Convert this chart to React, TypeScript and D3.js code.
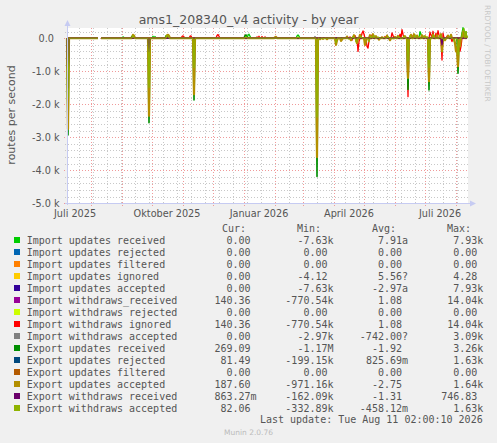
import React from 'react';
import * as d3 from 'd3';

// ---------- data ----------
const startDate = new Date(Date.UTC(2025, 6, 8));
const endDate = new Date(Date.UTC(2026, 7, 12));
const dayCount = 401;
const gapDays = [32, 33];

const yTickValues = [0, -1000, -2000, -3000, -4000, -5000];
const yTickLabels = ['0.0', '-1.0 k', '-2.0 k', '-3.0 k', '-4.0 k', '-5.0 k'];

const xLabelMonths = ['2025-07-01', '2025-10-01', '2026-01-01', '2026-04-01', '2026-07-01'];
const xLabelTexts = ['Juli 2025', 'Oktober 2025', 'Januar 2026', 'April 2026', 'Juli 2026'];

const seriesNames = [
  'Import updates received',
  'Import updates rejected',
  'Import updates filtered',
  'Import updates ignored',
  'Import updates accepted',
  'Import withdraws_received',
  'Import withdraws rejected',
  'Import withdraws ignored',
  'Import withdraws accepted',
  'Export updates received',
  'Export updates rejected',
  'Export updates filtered',
  'Export updates accepted',
  'Export withdraws received',
  'Export withdraws accepted',
];
const seriesColors = [
  '#00CC00', '#0066B3', '#FF8000', '#FFCC00', '#330099', '#990099', '#CCFF00', '#FF0000',
  '#808080', '#008F00', '#00487D', '#B35A00', '#B38F00', '#6B006B', '#8FB300',
];
const curValues = ['0.00', '0.00', '0.00', '0.00', '0.00', '140.36', '0.00', '140.36', '0.00', '269.09', '81.49', '0.00', '187.60', '863.27m', '82.06'];
const minValues = ['-7.63k', '0.00', '0.00', '-4.12', '-7.63k', '-770.54k', '0.00', '-770.54k', '-2.97k', '-1.17M', '-199.15k', '0.00', '-971.16k', '-162.09k', '-332.89k'];
const avgValues = ['7.91a', '0.00', '0.00', '5.56?', '-2.97a', '1.08', '0.00', '1.08', '-742.00?', '-1.92', '825.69m', '0.00', '-2.75', '-1.31', '-458.12m'];
const maxValues = ['7.93k', '0.00', '0.00', '4.28', '7.93k', '14.04k', '0.00', '14.04k', '3.09k', '3.26k', '1.63k', '0.00', '1.64k', '746.83', '1.63k'];

// sparse readings [day index from start, routes/s]; unlisted days read 0
const importUpdatesReceived = [
  [56, 40], [57, 20], [86, 60], [88, 50], [99, 80], [101, 110], [181, 90], [182, 120], [183, 60],
  [230, 70], [231, 100], [232, 60], [353, 200], [354, 120], [395, 150], [396, 320], [397, 250], [399, 200],
];
const importUpdatesRejected: number[][] = [];
const importUpdatesFiltered: number[][] = [];
const importUpdatesIgnored: number[][] = [];
const importUpdatesAccepted = [[1, -1300]];
const importWithdrawsReceived = [[375, -300]];
const importWithdrawsRejected: number[][] = [];
const importWithdrawsIgnored = [
  [115, 50], [116, 70], [117, 40], [123, 60], [124, 70], [150, 80], [151, 110], [152, 60], [190, 40],
  [192, 60], [195, 50], [198, 40], [283, 40], [285, -60], [288, 80], [291, -400], [292, -100], [295, 150],
  [296, 220], [297, 120], [300, -250], [301, -300], [302, -80], [305, 100], [308, 60], [318, 50], [325, 160],
  [326, 80], [333, 120], [335, 260], [336, 120], [341, -1770], [345, 80], [356, 60], [363, 180], [364, 100],
  [366, 210], [369, 150], [371, 230], [372, 100], [375, -660], [376, 150], [380, 60], [385, -100], [393, -400],
  [394, -250], [398, 150],
];
const importWithdrawsAccepted = [[248, 50]];
const exportUpdatesReceived = [
  [1, -2930], [65, 60], [82, -2560], [100, 80], [127, -1870], [178, 80], [179, 100], [250, -4190],
  [341, -1550], [362, -1570], [391, -1060],
];
const exportUpdatesRejected: number[][] = [];
const exportUpdatesFiltered: number[][] = [];
const exportUpdatesAccepted = [
  [1, -2750], [66, 100], [67, 80], [82, -2350], [100, 90], [101, 100], [102, 70], [127, -1700], [208, 30],
  [209, 40], [250, -3600], [253, -30], [256, -20], [260, -30], [269, -200], [270, -60], [274, -80], [275, -40],
  [280, 50], [284, -60], [287, 90], [290, -150], [293, 100], [298, -200], [299, -100], [303, 90], [306, 120],
  [309, 60], [312, -40], [315, 30], [320, 80], [323, -60], [328, 40], [331, 70], [338, 60], [341, -1200],
  [344, 100], [347, 120], [350, 80], [355, 90], [358, 60], [362, -1300], [366, 110], [370, 90], [374, 120],
  [375, -400], [378, -60], [381, 80], [384, 100], [388, -150], [389, -400], [390, -300], [391, -850],
  [393, -250], [396, 200], [398, 120], [400, 80],
];
const exportWithdrawsReceived = [[1, -1500], [82, -400], [375, -200]];
const exportWithdrawsAccepted = [
  [1, -1800], [66, 90], [82, -1500], [100, 70], [101, 90], [127, -900], [179, 60], [231, 50], [250, -2400],
  [253, -40], [257, -20], [269, -150], [282, -40], [286, 70], [289, -120], [294, 80], [302, -120], [304, 70],
  [307, 90], [311, 50], [317, 40], [321, 60], [327, -30], [332, 50], [337, 80], [341, -700], [343, 90],
  [348, 100], [352, 70], [357, 80], [360, 60], [362, -900], [367, 90], [373, 100], [377, -80], [383, 70],
  [387, -100], [391, -500], [392, -200], [396, 250], [397, 300], [399, 220],
];

const seriesReadings = [
  importUpdatesReceived, importUpdatesRejected, importUpdatesFiltered, importUpdatesIgnored,
  importUpdatesAccepted, importWithdrawsReceived, importWithdrawsRejected, importWithdrawsIgnored,
  importWithdrawsAccepted, exportUpdatesReceived, exportUpdatesRejected, exportUpdatesFiltered,
  exportUpdatesAccepted, exportWithdrawsReceived, exportWithdrawsAccepted,
];
const seriesStroke = [1.3, 1.3, 1.3, 1.3, 1.3, 1.3, 1.3, 1.3, 1.3, 1.6, 1.3, 1.3, 2.2, 1.3, 1];

// ---------- layout ----------
const W = 497;
const H = 443;
const plotLeft = 67;
const plotRight = 468;
const plotTop = 28;
const plotBottom = 203;

const FONT = 'DejaVu Sans, sans-serif';
const MONO = 'DejaVu Sans Mono, monospace';
const TEXT = '#555555';

function splitValue(s: string) {
  const last = s[s.length - 1];
  if (/[a-zA-Z?]/.test(last)) return [s.slice(0, -1), last];
  return [s, ''];
}

export default function App() {
  const x = d3.scaleUtc().domain([startDate, endDate]).range([67, 467]);
  const y = d3.scaleLinear().domain([-5000, 300]).range([203.3, 28.3]);

  const gapSet = new Set(gapDays);
  const buildSeries = (readings: number[][]) => {
    const vals = new Array(dayCount).fill(0);
    readings.forEach(([d, v]) => { vals[d] = v; });
    return vals.map((v, i) => ({ date: d3.utcDay.offset(startDate, i), v: gapSet.has(i) ? NaN : v }));
  };
  const line = d3.line<{ date: Date; v: number }>()
    .defined((p) => !isNaN(p.v))
    .x((p) => x(p.date))
    .y((p) => y(p.v));

  const monthLines = d3.utcMonth.range(d3.utcMonth.ceil(startDate), endDate);
  const minorLines = d3.utcDay.range(new Date(Date.UTC(2025, 6, 20)), endDate, 14);
  const minorY = d3.range(-4800, 300, 200).filter((v) => v % 1000 !== 0);

  const rowY = (i: number) => 240 + i * 12;
  const colEnds = [250.5, 327.5, 402, 477.3];
  const cols = [curValues, minValues, avgValues, maxValues];
  const headers = ['Cur:', 'Min:', 'Avg:', 'Max:'];
  const headerX = [222, 297, 372, 447];

  return (
    <svg width={W} height={H} style={{ position: 'absolute', left: 0, top: 0 }} xmlns="http://www.w3.org/2000/svg">
      <rect x={0} y={0} width={W} height={H} fill="#F0F0F0" />
      <rect x={plotLeft} y={plotTop} width={plotRight - plotLeft} height={plotBottom - plotTop} fill="#FFFFFF" />

      {/* minor grid */}
      {minorLines.map((d, i) => (
        <line key={'mx' + i} x1={Math.round(x(d)) + 0.5} x2={Math.round(x(d)) + 0.5} y1={plotTop} y2={plotBottom + 2}
          stroke="#C8C8C8" strokeWidth={1} strokeDasharray="1,2" />
      ))}
      {minorY.map((v, i) => (
        <line key={'my' + i} x1={plotLeft - 2} x2={plotRight} y1={Math.round(y(v)) + 0.5} y2={Math.round(y(v)) + 0.5}
          stroke="#C8C8C8" strokeWidth={1} strokeDasharray="1,2" />
      ))}
      {/* major grid */}
      {monthLines.map((d, i) => (
        <line key={'Mx' + i} x1={Math.round(x(d)) + 0.5} x2={Math.round(x(d)) + 0.5} y1={plotTop} y2={plotBottom + 3}
          stroke="#F09A9A" strokeWidth={1} strokeDasharray="1,2" />
      ))}
      {yTickValues.map((v, i) => (
        <line key={'My' + i} x1={plotLeft - 3} x2={plotRight} y1={Math.round(y(v)) + 0.5} y2={Math.round(y(v)) + 0.5}
          stroke="#F09A9A" strokeWidth={1} strokeDasharray="1,2" />
      ))}

      {/* series */}
      {seriesReadings.map((r, i) => (
        <path key={'s' + i} d={line(buildSeries(r)) || ''} fill="none" stroke={seriesColors[i]} strokeWidth={seriesStroke[i]}
          strokeLinejoin="round" />
      ))}

      {/* axes */}
      <line x1={plotLeft + 0.5} x2={plotLeft + 0.5} y1={plotBottom + 2} y2={plotTop - 4} stroke="#C6CBF2" strokeWidth={1} />
      <path d={`M${plotLeft - 2.5},${plotTop - 2} L${plotLeft + 0.5},${plotTop - 8} L${plotLeft + 3.5},${plotTop - 2} Z`} fill="#C6CBF2" />
      <line x1={plotLeft - 2} x2={plotRight + 3} y1={plotBottom + 0.5} y2={plotBottom + 0.5} stroke="#C6CBF2" strokeWidth={1} />
      <path d={`M${plotRight + 2},${plotBottom - 2.5} L${plotRight + 8},${plotBottom + 0.5} L${plotRight + 2},${plotBottom + 3.5} Z`} fill="#C6CBF2" />

      {/* y tick labels */}
      {yTickValues.map((v, i) => (
        <text key={'yl' + i} x={v === 0 ? 54 : 59.5} y={y(v) + 3.5} fontFamily={FONT} fontSize={9.7} fill={TEXT} textAnchor="end">
          {yTickLabels[i]}
        </text>
      ))}
      {/* x labels */}
      {xLabelMonths.map((m, i) => (
        <text key={'xl' + i} x={x(d3.utcDay.offset(new Date(m + 'T00:00:00Z'), 15))} y={216.5} fontFamily={FONT} fontSize={9.7}
          fill={TEXT} textAnchor="middle">
          {xLabelTexts[i]}
        </text>
      ))}

      {/* title & labels */}
      <text x={248.5} y={23.5} fontFamily={FONT} fontSize={12.5} fill={TEXT} textAnchor="middle">
        ams1_208340_v4 activity - by year
      </text>
      <text transform="translate(15,115) rotate(-90)" fontFamily={FONT} fontSize={11} fill={TEXT} textAnchor="middle">
        routes per second
      </text>
      <text transform="translate(484.5,5) rotate(90)" fontFamily={FONT} fontSize={7.5} fill="#C8C8C8">
        RRDTOOL / TOBI OETIKER
      </text>

      {/* legend */}
      {headers.map((h, i) => (
        <text key={'h' + i} x={headerX[i]} y={231.8} fontFamily={MONO} fontSize={10} fill={TEXT}>{h}</text>
      ))}
      {seriesNames.map((n, i) => (
        <g key={'lg' + i}>
          <rect x={14} y={rowY(i) - 3} width={6} height={6} fill={seriesColors[i]} />
          <text x={26.7} y={rowY(i) + 3.6} fontFamily={MONO} fontSize={10} fill={TEXT}>{n}</text>
          {cols.map((col, c) => {
            const [num, suf] = splitValue(col[i]);
            return (
              <g key={'c' + c}>
                <text x={colEnds[c]} y={rowY(i) + 3.6} fontFamily={MONO} fontSize={10} fill={TEXT} textAnchor="end">{num}</text>
                {suf && (
                  <text x={colEnds[c]} y={rowY(i) + 3.6} fontFamily={MONO} fontSize={10} fill={TEXT}>{suf}</text>
                )}
              </g>
            );
          })}
        </g>
      ))}
      <text x={482.7} y={423} fontFamily={MONO} fontSize={10} fill={TEXT} textAnchor="end">
        Last update: Tue Aug 11 02:00:10 2026
      </text>
      <text x={248.5} y={435} fontFamily={FONT} fontSize={7.5} fill="#BBBBBB" textAnchor="middle">
        Munin 2.0.76
      </text>
    </svg>
  );
}
